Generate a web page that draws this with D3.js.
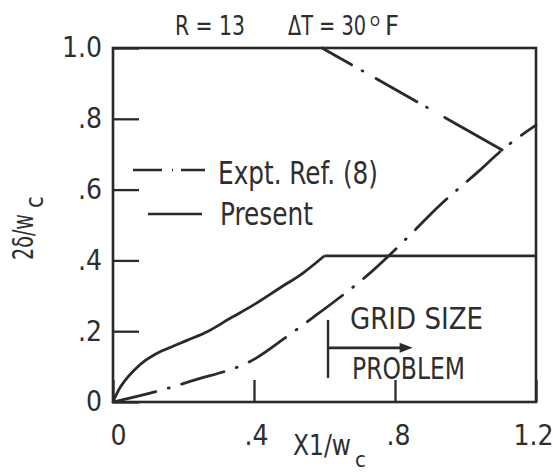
<!DOCTYPE html>
<html>
<head>
<meta charset="utf-8">
<script src="https://cdn.jsdelivr.net/npm/d3@7"></script>
<style>
  body { margin: 0; background: #fff; }
  svg text { font-family: "Liberation Sans Narrow", "DejaVu Sans Condensed", "DejaVu Sans", sans-serif; fill: #2e2e2e; }
</style>
</head>
<body>
<div class="chart"></div>
<script>
// values
const xTicks = [0, 0.4, 0.8, 1.2]
const xTickLabels = ["0", ".4", ".8", "1.2"]
const yTicks = [0, 0.2, 0.4, 0.6, 0.8, 1.0]
const yTickLabels = ["0", ".2", ".4", ".6", ".8", "1.0"]

// present method
const presentX = [0, 0.015, 0.035, 0.06, 0.09, 0.12, 0.16, 0.21, 0.27, 0.33, 0.4, 0.47, 0.54, 0.6, 1.2]
const presentY = [0, 0.032, 0.062, 0.09, 0.116, 0.135, 0.153, 0.174, 0.2, 0.235, 0.275, 0.32, 0.365, 0.413, 0.413]

// expt. ref. (8), lower branch
const exptX = [0, 0.128, 0.221, 0.406, 0.488, 0.565, 0.652, 0.723, 0.851, 0.919, 1.041, 1.104, 1.2]
const exptY = [0, 0.031, 0.059, 0.124, 0.181, 0.237, 0.302, 0.359, 0.48, 0.548, 0.655, 0.712, 0.782]
// expt. ref. (8), upper branch
const exptUpX = [0.593, 1.104]
const exptUpY = [1.0, 0.712]

// grid size problem marker
const gridX = 0.61
const gridArrowEnd = 0.85

const width = 557
const height = 472
const mLeft = 113, mRight = 536, mTop = 48, mBottom = 402
const ink = "#2a2a2a"

const svg = d3.select(".chart")
    .append("svg")
    .attr("width", width)
    .attr("height", height)

const xScale = d3.scaleLinear().domain([0, 1.2]).range([mLeft, mRight])
const yScale = d3.scaleLinear().domain([0, 1.0]).range([mBottom, mTop])

// frame
svg.append("rect")
    .attr("x", mLeft).attr("y", mTop)
    .attr("width", mRight - mLeft).attr("height", mBottom - mTop)
    .attr("fill", "none").attr("stroke", ink).attr("stroke-width", 2.6)

// x axis, ticks pointing in
const xNudge = [5, 2, 3, -3]
svg.append("g")
    .attr("transform", `translate(0,${mBottom})`)
    .call(d3.axisBottom(xScale)
        .tickValues(xTicks)
        .tickFormat((d, i) => xTickLabels[i])
        .tickSizeInner(-22).tickSizeOuter(0).tickPadding(23))
    .call(g => g.select(".domain").remove())
    .call(g => g.selectAll("line").attr("stroke", ink).attr("stroke-width", 2.3))
    .call(g => g.selectAll("text").attr("font-size", 28).attr("fill", "#2e2e2e")
        .attr("dx", (d, i) => xNudge[i]))

// y axis, ticks pointing in
svg.append("g")
    .attr("transform", `translate(${mLeft},0)`)
    .call(d3.axisLeft(yScale)
        .tickValues(yTicks)
        .tickFormat((d, i) => yTickLabels[i])
        .tickSizeInner(-26).tickSizeOuter(0).tickPadding(11))
    .call(g => g.select(".domain").remove())
    .call(g => g.selectAll("line").attr("stroke", ink).attr("stroke-width", 2.3))
    .call(g => g.selectAll("text").attr("font-size", 28).attr("fill", "#2e2e2e"))

const line = d3.line()
    .x(d => xScale(d[0]))
    .y(d => yScale(d[1]))

const present = d3.zip(presentX, presentY)
const exptLow = d3.zip(exptX, exptY)
const exptUp = d3.zip(exptUpX, exptUpY)

// present curve: smooth rise, then sharp kink to a flat line
svg.append("path")
    .attr("d", line.curve(d3.curveMonotoneX)(present.filter(p => p[0] <= 0.6)))
    .attr("fill", "none").attr("stroke", ink).attr("stroke-width", 2.8)
svg.append("path")
    .attr("d", line.curve(d3.curveLinear)(present.filter(p => p[0] >= 0.6)))
    .attr("fill", "none").attr("stroke", ink).attr("stroke-width", 2.8)

// experiment, dash-dot
const dashDot = "44,13,1,13"
svg.append("path")
    .attr("d", line.curve(d3.curveMonotoneX)(exptLow))
    .attr("fill", "none").attr("stroke", ink).attr("stroke-width", 2.8)
    .attr("stroke-dasharray", dashDot).attr("stroke-linecap", "round")
svg.append("path")
    .attr("d", line.curve(d3.curveLinear)(exptUp))
    .attr("fill", "none").attr("stroke", ink).attr("stroke-width", 2.8)
    .attr("stroke-dasharray", "34,12,1,15,47,11,1,20,200").attr("stroke-linecap", "round")

// legend
svg.append("line")
    .attr("x1", 133).attr("x2", 205).attr("y1", 170).attr("y2", 170)
    .attr("stroke", ink).attr("stroke-width", 2.6)
    .attr("stroke-dasharray", "29,10,1,8").attr("stroke-linecap", "butt")
svg.append("text")
    .attr("x", 218).attr("y", 184)
    .attr("font-size", 32)
    .attr("textLength", 160).attr("lengthAdjust", "spacingAndGlyphs")
    .text("Expt. Ref. (8)")
svg.append("line")
    .attr("x1", 148).attr("x2", 202).attr("y1", 214).attr("y2", 214)
    .attr("stroke", ink).attr("stroke-width", 2.6)
svg.append("text")
    .attr("x", 220).attr("y", 225)
    .attr("font-size", 32)
    .attr("textLength", 93).attr("lengthAdjust", "spacingAndGlyphs")
    .text("Present")

// grid size problem marker
svg.append("line")
    .attr("x1", xScale(gridX)).attr("x2", xScale(gridX))
    .attr("y1", yScale(0.232)).attr("y2", yScale(0.068))
    .attr("stroke", ink).attr("stroke-width", 2.4)
svg.append("line")
    .attr("x1", xScale(gridX)).attr("x2", xScale(gridArrowEnd) - 10)
    .attr("y1", yScale(0.153)).attr("y2", yScale(0.153))
    .attr("stroke", ink).attr("stroke-width", 2.6)
svg.append("path")
    .attr("d", d3.line()([
        [xScale(gridArrowEnd), yScale(0.153)],
        [xScale(gridArrowEnd) - 13, yScale(0.153) - 5],
        [xScale(gridArrowEnd) - 13, yScale(0.153) + 5]]) + "Z")
    .attr("fill", ink)
svg.append("text")
    .attr("x", 350).attr("y", 329)
    .attr("font-size", 30)
    .attr("textLength", 133).attr("lengthAdjust", "spacingAndGlyphs")
    .text("GRID SIZE")
svg.append("text")
    .attr("x", 352).attr("y", 379)
    .attr("font-size", 30)
    .attr("textLength", 113).attr("lengthAdjust", "spacingAndGlyphs")
    .text("PROBLEM")

// title
svg.append("text")
    .attr("x", 175).attr("y", 35)
    .attr("font-size", 27)
    .attr("textLength", 70).attr("lengthAdjust", "spacingAndGlyphs")
    .text("R = 13")
const dT = svg.append("text")
    .attr("x", 288).attr("y", 35)
    .attr("font-size", 27)
dT.append("tspan")
    .attr("textLength", 78).attr("lengthAdjust", "spacingAndGlyphs")
    .text("ΔT = 30")
dT.append("tspan")
    .attr("x", 370).attr("dy", -9)
    .attr("font-size", 14)
    .text("O")
dT.append("tspan")
    .attr("x", 385).attr("dy", 9)
    .text("F")

// axis titles
svg.append("text")
    .attr("x", 293).attr("y", 455)
    .attr("font-size", 28)
    .attr("textLength", 58).attr("lengthAdjust", "spacingAndGlyphs")
    .text("X1/w")
svg.append("text")
    .attr("x", 355).attr("y", 467)
    .attr("font-size", 22)
    .text("c")

svg.append("text")
    .attr("transform", "translate(33,260) rotate(-90)")
    .attr("font-size", 28)
    .attr("textLength", 46).attr("lengthAdjust", "spacingAndGlyphs")
    .text("2δ/w")
svg.append("text")
    .attr("transform", "translate(43,208) rotate(-90)")
    .attr("font-size", 24)
    .text("c")
</script>
</body>
</html>
